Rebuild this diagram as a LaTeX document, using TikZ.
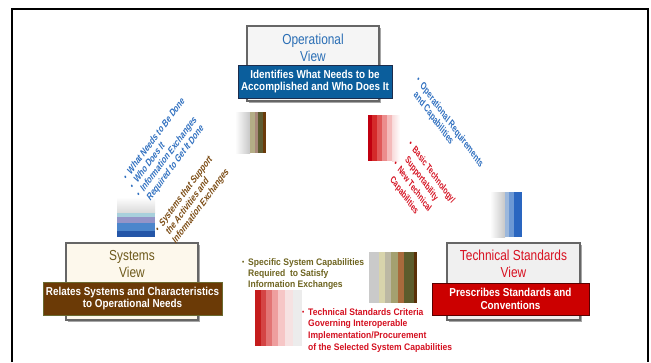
\documentclass[tikz,border=0pt]{standalone}
\usepackage{fontspec}
\setmainfont{Liberation Sans}
\newfontfamily\nar[FakeStretch=0.82]{Liberation Sans}
\newfontfamily\narb[FakeStretch=0.86]{Liberation Sans}
\newfontfamily\narn[FakeStretch=0.9]{Liberation Sans}
\usetikzlibrary{shadows}
% palette
\definecolor{opblue}{HTML}{2A6EB5}
\definecolor{opbanner}{HTML}{0B5E9C}
\definecolor{opedge}{HTML}{1C2C4C}
\definecolor{systitle}{HTML}{6E5A1C}
\definecolor{sysbanner}{HTML}{6B3A06}
\definecolor{sysedge}{HTML}{6A6A30}
\definecolor{sysfill}{HTML}{FDF8EC}
\definecolor{tsred}{HTML}{D81020}
\definecolor{tsbanner}{HTML}{CC0000}
\definecolor{tsedge}{HTML}{5A0000}
\definecolor{noteblue}{HTML}{2F6FBF}
\definecolor{notebrown}{HTML}{7A4A12}
\definecolor{noteolive}{HTML}{6E6420}
\definecolor{notered}{HTML}{D41020}
\newcommand\bul{\makebox[6pt][l]{\raisebox{0.4pt}{\scriptsize\textbullet}}}
\newcommand\ind{\hphantom{\bul}}
\begin{document}
\begin{tikzpicture}[x=1pt,y=-1pt,
  viewbox/.style={draw=black!60, line width=1.2pt, inner sep=0,
    drop shadow={shadow xshift=1.5pt, shadow yshift=-1.5pt, fill=black!35, opacity=1}},
  viewtitle/.style={font=\nar\fontsize{14.5}{17}\selectfont, align=center, inner sep=0},
  banner/.style={line width=1pt, text=white, inner sep=0, align=center,
    font=\narb\bfseries\fontsize{11.5}{12.8}\selectfont},
  slant/.style={transform shape, inner sep=0, align=left, anchor=north west,
    font=\nar\bfseries\fontsize{8.3}{9.2}\selectfont},
  note/.style={inner sep=0, align=left, anchor=north west,
    font=\narn\bfseries\fontsize{9.5}{11.2}\selectfont}]

\useasboundingbox (0,0) rectangle (651,362);

% outer frame, open at the bottom
\draw[line width=1.3pt] (12,362) -- (12,9) -- (648,9) -- (648,362);

% ---------- Operational View ----------
\node[viewbox, fill=black!4, minimum width=132pt, minimum height=75pt] (opbox) at (313,63.5) {};
\node[viewtitle, text=opblue] (optitle) at (313,48) {Operational\\View};
\node[banner, fill=opbanner, draw=opedge, minimum width=154pt, minimum height=33pt] (opban) at (315,81.5)
  {Identifies What Needs to be\\Accomplished and Who Does It};

% ---------- Systems View ----------
\node[viewbox, fill=sysfill, minimum width=132pt, minimum height=77pt] (sysbox) at (132,281.5) {};
\node[viewtitle, text=systitle] (systitle) at (132,264) {Systems\\View};
\node[banner, fill=sysbanner, draw=sysedge, minimum width=179pt, minimum height=33pt] (sysban) at (132.5,298.5)
  {Relates Systems and Characteristics\\to Operational Needs};

% ---------- Technical Standards View ----------
\node[viewbox, fill=black!6, minimum width=133pt, minimum height=77pt] (tsbox) at (513.5,281.5) {};
\node[viewtitle, text=tsred] (tstitle) at (513.5,264) {Technical Standards\\View};
\node[banner, fill=tsbanner, draw=tsedge, minimum width=157pt, minimum height=32pt] (tsban) at (510.5,299)
  {Prescribes Standards and\\Conventions};

% ---------- colour swatches ----------
% brown/olive strip beside the operational box
\shade[left color=white, right color=black!22] (235,112) rectangle (250,153);
\fill[color={rgb,255:red,180;green,173;blue,134}] (250,112) rectangle (255,153);
\fill[color={rgb,255:red,168;green,136;blue,122}] (255,112) rectangle (258,153);
\fill[color={rgb,255:red,94;green,92;blue,50}] (258,112) rectangle (263,153);
\fill[color={rgb,255:red,107;green,58;blue,10}] (263,112) rectangle (266,153);

% blue strip above the systems box (vertical)
\shade[top color=white, bottom color=black!15] (117,197) rectangle (155,213);
\fill[color={rgb,255:red,168;green,208;blue,220}] (117,213) rectangle (155,217);
\fill[color={rgb,255:red,148;green,148;blue,200}] (117,217) rectangle (155,223);
\fill[color={rgb,255:red,76;green,134;blue,204}] (117,223) rectangle (155,231);
\fill[color={rgb,255:red,36;green,86;blue,168}] (117,231) rectangle (155,237);

% red strip right of the operational box
\fill[color={rgb,255:red,192;green,0;blue,16}] (368,115) rectangle (372,161);
\fill[color={rgb,255:red,212;green,42;blue,42}] (372,115) rectangle (377,161);
\fill[color={rgb,255:red,224;green,88;blue,88}] (377,115) rectangle (382,161);
\fill[color={rgb,255:red,236;green,140;blue,140}] (382,115) rectangle (387,161);
\fill[color={rgb,255:red,244;green,186;blue,186}] (387,115) rectangle (392,161);
\shade[left color={rgb,255:red,248;green,218;blue,218}, right color=white] (392,115) rectangle (400,161);

% blue strip above the technical standards box
\shade[left color=white, right color=black!22] (490,192) rectangle (505,237);
\fill[color={rgb,255:red,156;green,184;blue,220}] (505,192) rectangle (509,237);
\fill[color={rgb,255:red,108;green,152;blue,212}] (509,192) rectangle (514,237);
\fill[color={rgb,255:red,42;green,102;blue,192}] (514,192) rectangle (522,237);

% olive strip in the middle
\fill[color={rgb,255:red,202;green,202;blue,202}] (369,252) rectangle (379,303);
\fill[color={rgb,255:red,216;green,212;blue,172}] (379,252) rectangle (385,303);
\fill[color={rgb,255:red,188;green,184;blue,164}] (385,252) rectangle (391,303);
\fill[color={rgb,255:red,164;green,160;blue,112}] (391,252) rectangle (398,303);
\fill[color={rgb,255:red,168;green,106;blue,60}] (398,252) rectangle (404,303);
\fill[color={rgb,255:red,92;green,92;blue,44}] (404,252) rectangle (414,303);
\fill[color={rgb,255:red,90;green,48;blue,8}] (414,252) rectangle (417,303);

% red strip at the bottom
\fill[color={rgb,255:red,196;green,28;blue,28}] (255,290) rectangle (261,346);
\fill[color={rgb,255:red,212;green,68;blue,68}] (261,290) rectangle (266,346);
\fill[color={rgb,255:red,226;green,116;blue,116}] (266,290) rectangle (272,346);
\fill[color={rgb,255:red,238;green,158;blue,158}] (272,290) rectangle (278,346);
\fill[color={rgb,255:red,246;green,198;blue,198}] (278,290) rectangle (285,346);
\fill[color={rgb,255:red,246;green,226;blue,226}] (285,290) rectangle (293,346);
\fill[color={rgb,255:red,236;green,236;blue,236}] (293,290) rectangle (302,346);

% ---------- slanted notes ----------
\begin{scope}[shift={(122,175)}, yscale=1.35]
  \node[slant, rotate=45, text=noteblue] (opnotes)
    {\bul What Needs to Be Done\\\bul Who Does It\\\bul Information Exchanges\\\ind Required to Get It Done};
\end{scope}
\begin{scope}[shift={(154,227)}, yscale=1.35]
  \node[slant, rotate=45, text=notebrown] (sysnotes)
    {\bul Systems that Support\\\ind the Activities and\\\ind Information Exchanges};
\end{scope}
\begin{scope}[shift={(420,75)}, yscale=1.35]
  \node[slant, rotate=-45, text=noteblue] (reqnotes)
    {\bul Operational Requirements\\\ind and Capabilities};
\end{scope}
\begin{scope}[shift={(412,139)}, yscale=1.35]
  \node[slant, rotate=-45, text=notered, font=\nar\bfseries\fontsize{7.8}{10.5}\selectfont] (technotes)
    {\bul Basic Technology/\\\ind Supportability\\\bul New Technical\\\ind Capabilities};
\end{scope}

% ---------- horizontal notes ----------
\node[note, text=noteolive, font=\narn\bfseries\fontsize{9.5}{11}\selectfont] (capnotes) at (242,258)
  {\bul Specific System Capabilities\\\ind Required~ to Satisfy\\\ind Information Exchanges};
\node[note, text=notered, font=\narn\bfseries\fontsize{9.5}{11.8}\selectfont] (stdnotes) at (302,308)
  {\bul Technical Standards Criteria\\\ind Governing Interoperable\\\ind Implementation/Procurement\\\ind of the Selected System Capabilities};

\end{tikzpicture}
\end{document}
